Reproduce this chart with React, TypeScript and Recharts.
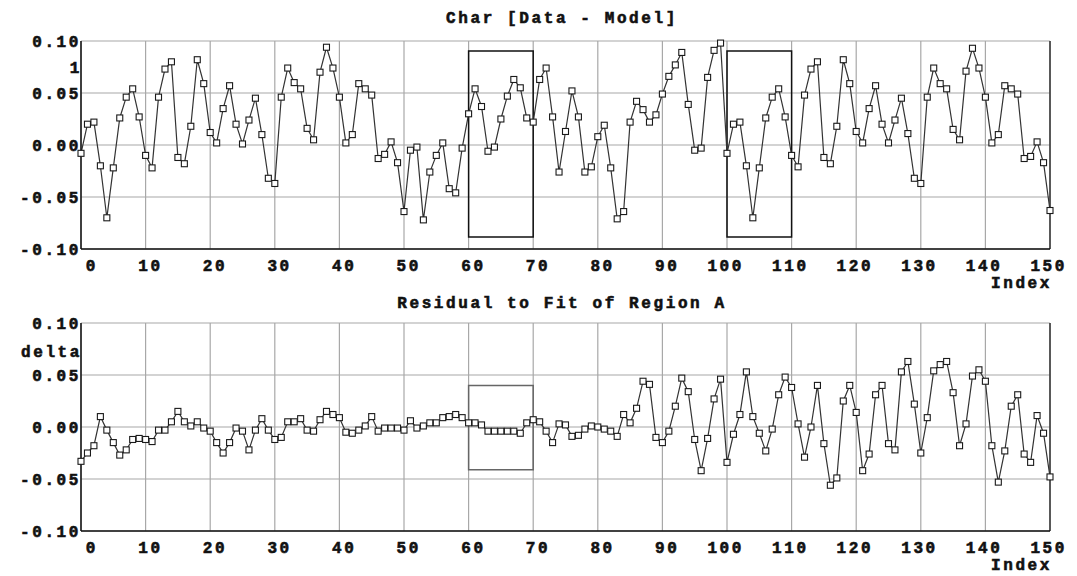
import React from "react";
import { LineChart, Line, XAxis, YAxis, CartesianGrid, ReferenceArea, ReferenceLine } from "recharts";

// index 0..150
const indices = Array.from({ length: 151 }, (_, i) => i);

const charValues = [
  -0.008, 0.02, 0.022, -0.02, -0.07, -0.022, 0.026, 0.046, 0.054, 0.027,
  -0.01, -0.022, 0.046, 0.073, 0.08, -0.012, -0.018, 0.018, 0.082, 0.059,
  0.012, 0.002, 0.035, 0.057, 0.02, 0.001, 0.024, 0.045, 0.01, -0.032,
  -0.037, 0.046, 0.074, 0.06, 0.054, 0.016, 0.005, 0.07, 0.094, 0.074,
  0.046, 0.002, 0.01, 0.059, 0.054, 0.048, -0.013, -0.009, 0.003, -0.017,
  -0.064, -0.005, -0.002, -0.072, -0.026, -0.01, 0.002, -0.042, -0.046, -0.003,
  0.03, 0.054, 0.037, -0.006, -0.002, 0.025, 0.047, 0.063, 0.055, 0.026,
  0.022, 0.063, 0.074, 0.027, -0.026, 0.013, 0.052, 0.027, -0.026, -0.021,
  0.008, 0.019, -0.022, -0.071, -0.064, 0.022, 0.042, 0.034, 0.022, 0.029,
  0.049, 0.066, 0.077, 0.089, 0.039, -0.005, -0.003, 0.065, 0.091, 0.098,
  -0.008, 0.02, 0.022, -0.02, -0.07, -0.022, 0.026, 0.046, 0.054, 0.027,
  -0.01, -0.021, 0.048, 0.073, 0.08, -0.012, -0.018, 0.018, 0.082, 0.059,
  0.013, 0.002, 0.035, 0.057, 0.02, 0.002, 0.024, 0.045, 0.011, -0.032,
  -0.037, 0.046, 0.074, 0.059, 0.054, 0.015, 0.005, 0.071, 0.093, 0.074,
  0.046, 0.002, 0.01, 0.057, 0.054, 0.049, -0.013, -0.011, 0.003, -0.017,
  -0.063,
];

const residualValues = [
  -0.033, -0.025, -0.018, 0.01, -0.003, -0.015, -0.027, -0.022, -0.012, -0.011,
  -0.012, -0.014, -0.003, -0.003, 0.005, 0.015, 0.005, 0.001, 0.005, -0.001,
  -0.004, -0.015, -0.025, -0.015, -0.001, -0.004, -0.022, -0.003, 0.008, -0.003,
  -0.012, -0.01, 0.005, 0.005, 0.008, -0.003, -0.004, 0.007, 0.015, 0.012,
  0.009, -0.005, -0.006, -0.003, 0.001, 0.01, -0.004, -0.001, -0.001, -0.001,
  -0.003, 0.006, -0.001, 0.001, 0.004, 0.004, 0.009, 0.01, 0.012, 0.009,
  0.004, 0.004, 0.002, -0.004, -0.004, -0.004, -0.004, -0.004, -0.006, 0.004,
  0.007, 0.005, -0.004, -0.015, 0.003, 0.002, -0.009, -0.008, -0.002, 0.001,
  0.0, -0.002, -0.004, -0.009, 0.012, 0.004, 0.018, 0.044, 0.041, -0.01,
  -0.015, -0.004, 0.02, 0.047, 0.034, -0.012, -0.042, -0.011, 0.027, 0.046,
  -0.034, -0.007, 0.012, 0.053, 0.01, -0.006, -0.023, -0.002, 0.031, 0.048,
  0.038, 0.003, -0.029, 0.0, 0.04, -0.016, -0.056, -0.049, 0.025, 0.04,
  0.014, -0.042, -0.026, 0.031, 0.04, -0.016, -0.022, 0.053, 0.063, 0.022,
  -0.025, 0.009, 0.054, 0.06, 0.063, 0.033, -0.018, 0.003, 0.049, 0.055,
  0.044, -0.018, -0.053, -0.023, 0.02, 0.031, -0.026, -0.034, 0.011, -0.006,
  -0.048,
];

const xTicks = [0, 10, 20, 30, 40, 50, 60, 70, 80, 90, 100, 110, 120, 130, 140, 150];
const yTicks = [-0.1, -0.05, 0, 0.05, 0.1];

const charData = indices.map((i) => ({ index: i, value: charValues[i] }));
const residualData = indices.map((i) => ({ index: i, value: residualValues[i] }));

const FONT = "'Liberation Mono', 'DejaVu Sans Mono', monospace";
const textStyle: React.CSSProperties = {
  position: "absolute",
  fontFamily: FONT,
  fontWeight: "bold",
  fontSize: 16,
  letterSpacing: 2.6,
  color: "#111",
  WebkitTextStroke: "0.6px #111",
  whiteSpace: "nowrap",
  lineHeight: "16px",
};

const XTick = (props: any) => {
  const { x, y, payload } = props;
  return (
    <text x={x + 17} y={y} dy={14} textAnchor="end" fontFamily={FONT} fontWeight="bold" fontSize={16} letterSpacing={2.6} fill="#111" stroke="#111" strokeWidth={0.6}>
      {payload.value}
    </text>
  );
};

const YTick = (props: any) => {
  const { x, y, payload } = props;
  return (
    <text x={x + 2} y={y} dy="0.35em" textAnchor="end" fontFamily={FONT} fontWeight="bold" fontSize={16} letterSpacing={2.6} fill="#111" stroke="#111" strokeWidth={0.6}>
      {payload.value.toFixed(2)}
    </text>
  );
};

const squareDot = (p: any) => (
  <rect key={`d${p.index}`} x={p.cx - 3} y={p.cy - 3} width={6} height={6} fill="#fff" stroke="#1a1a1a" strokeWidth={1.1} />
);

function Panel({ data, top, bottom, boxes, boxColor }: any) {
  return (
    <LineChart width={1077} height={288} data={data} margin={{ top, right: 27, bottom, left: 8 }}>
      <CartesianGrid stroke="#a8a8a8" strokeWidth={1.2} />
      <XAxis
        dataKey="index"
        type="number"
        domain={[0, 150]}
        ticks={xTicks}
        interval={0}
        height={30}
        tickLine={false}
        axisLine={{ stroke: "#111", strokeWidth: 1.5 }}
        tick={<XTick />}
      />
      <YAxis
        type="number"
        domain={[-0.1, 0.1]}
        ticks={yTicks}
        interval={0}
        width={73}
        tickLine={false}
        tickSize={0}
        axisLine={{ stroke: "#111", strokeWidth: 1.5 }}
        tick={<YTick />}
      />
      <ReferenceLine x={150} stroke="#333" strokeWidth={1.5} />
      {boxes.map((b: number[], k: number) => (
        <ReferenceArea key={k} x1={b[0]} x2={b[1]} y1={b[2]} y2={b[3]} fill="none" fillOpacity={0} stroke={boxColor} strokeWidth={1.5} />
      ))}
      <Line
        dataKey="value"
        stroke="#333"
        strokeWidth={1.2}
        dot={squareDot}
        activeDot={false}
        isAnimationActive={false}
      />
    </LineChart>
  );
}

export default function App() {
  return (
    <div style={{ position: "absolute", left: 0, top: 0, width: 1077, height: 576, background: "#fff" }}>
      <div style={{ position: "absolute", left: 0, top: 0 }}>
        <Panel data={charData} top={41} bottom={9} boxes={[[60, 70, -0.0885, 0.0905], [100, 110, -0.0885, 0.0905]]} boxColor="#111" />
      </div>
      <div style={{ position: "absolute", left: 0, top: 288 }}>
        <Panel data={residualData} top={35} bottom={15} boxes={[[60, 70, -0.041, 0.04]]} boxColor="#666" />
      </div>
      <div style={{ ...textStyle, left: 0, width: 1124, top: 11, textAlign: "center" }}>Char [Data - Model]</div>
      <div style={{ ...textStyle, right: 1077 - 82, top: 61, textAlign: "right" }}>1</div>
      <div style={{ ...textStyle, right: 1077 - 1052, top: 276, textAlign: "right" }}>Index</div>
      <div style={{ ...textStyle, left: 0, width: 1124, top: 296, textAlign: "center" }}>Residual to Fit of Region A</div>
      <div style={{ ...textStyle, right: 1077 - 82, top: 345, textAlign: "right" }}>delta</div>
      <div style={{ ...textStyle, right: 1077 - 1052, top: 558, textAlign: "right" }}>Index</div>
    </div>
  );
}
